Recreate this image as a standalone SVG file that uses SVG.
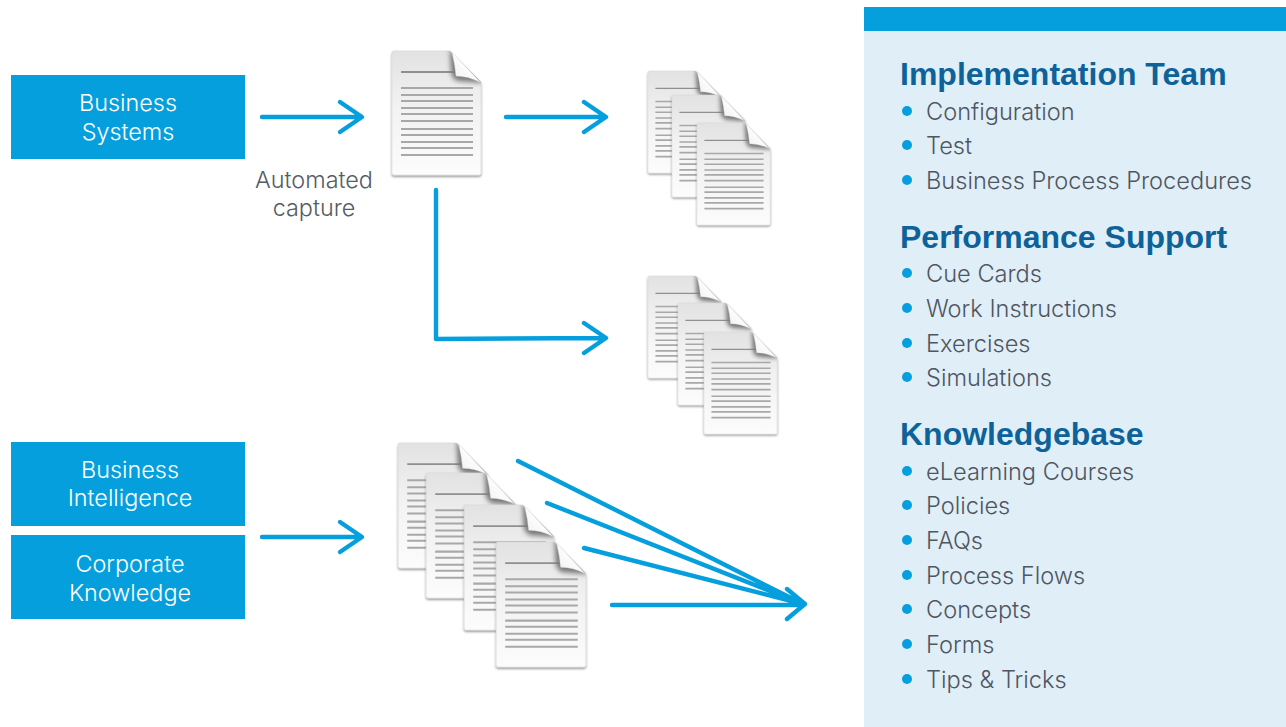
<svg xmlns="http://www.w3.org/2000/svg" width="1286" height="727" viewBox="0 0 1286 727">
<style>
text{font-family:Inter,"Liberation Sans",Arial,sans-serif;font-weight:300}
.box{fill:#069fdd}
.bt{fill:#fff;font-size:23.4px;text-anchor:middle}
.cap{fill:#555c64;font-size:23.4px;text-anchor:middle}
.h{fill:#0d6399;font-size:32px;font-weight:bold;font-family:"Liberation Sans",Arial,sans-serif}
.li{fill:#4f5660;font-size:23.6px}
.dot{fill:#069fdd}
.conn{fill:none;stroke:#069fdd;stroke-width:4.4;stroke-linecap:round;stroke-linejoin:round}
.hl{stroke:#8f8f8f;stroke-width:1.8}
.bl{stroke:#a8a8a8;stroke-width:2}
</style>
<defs>
<linearGradient id="page" x1="0" y1="0" x2="0" y2="1"><stop offset="0" stop-color="#e2e2e2"/><stop offset=".45" stop-color="#f2f2f2"/><stop offset="1" stop-color="#fcfcfc"/></linearGradient>
<linearGradient id="flap" x1="0" y1="1" x2="1" y2="0"><stop offset="0" stop-color="#efefef"/><stop offset=".6" stop-color="#fff"/><stop offset="1" stop-color="#f4f4f4"/></linearGradient>
<filter id="sh" x="-10%" y="-10%" width="120%" height="120%"><feDropShadow dx="0" dy="1.5" stdDeviation="1" flood-color="#000" flood-opacity=".45"/></filter>
<filter id="bl" x="-50%" y="-50%" width="200%" height="200%"><feGaussianBlur stdDeviation="2.6"/></filter>
<clipPath id="pg"><path d="M2,0H58L89,31V122Q89,124 87,124H2Q0,124 0,122V2Q0,0 2,0Z"/></clipPath>
<symbol id="doc" viewBox="0 0 90 125" overflow="visible">
<path d="M2,0H58L89,31V122Q89,124 87,124H2Q0,124 0,122V2Q0,0 2,0Z" fill="url(#page)" stroke="#d8d8d8" stroke-width=".6" filter="url(#sh)"/>
<path class="hl" d="M9,21H63"/>
<path class="bl" d="M9,37H81M9,44H81M9,50H81M9,57H81M9,63H81M9,70H81M9,78H81M9,84H81M9,91H81M9,97H81M9,104H81"/>
<g clip-path="url(#pg)"><path d="M58,-3L92,32L66,30Q60,29 59,20Z" fill="#777" filter="url(#bl)"/></g>
<path d="M60,1Q63,14 64,25Q76,25 88,31Z" fill="url(#flap)" stroke="#d4d4d4" stroke-width=".4"/>
</symbol>
</defs>
<rect width="1286" height="727" fill="#fff"/>
<g id="node-panel">
<rect x="864" y="31" width="422" height="696" fill="#e0eef8"/>
<rect x="864" y="7" width="422" height="24" fill="#069fdd"/>
</g>
<g id="node-business-systems"><rect class="box" x="11" y="75" width="234" height="84"/><text class="bt" x="128" y="111">Business</text><text class="bt" x="128" y="140">Systems</text></g>
<g id="node-business-intelligence"><rect class="box" x="11" y="442" width="234" height="84"/><text class="bt" x="130" y="478">Business</text><text class="bt" x="130" y="506">Intelligence</text></g>
<g id="node-corporate-knowledge"><rect class="box" x="11" y="535" width="234" height="84"/><text class="bt" x="130" y="572">Corporate</text><text class="bt" x="130" y="601">Knowledge</text></g>
<g id="label-automated-capture"><text class="cap" x="314" y="188">Automated</text><text class="cap" x="314" y="216">capture</text></g>
<g id="node-doc-main"><use href="#doc" x="392" y="51" width="90" height="125"/></g>
<g id="node-stack-a">
<use href="#doc" x="648" y="71" width="74" height="103"/>
<use href="#doc" x="672" y="95" width="74" height="103"/>
<use href="#doc" x="697" y="123" width="74" height="103"/>
</g>
<g id="node-stack-b">
<use href="#doc" x="648" y="276" width="74" height="103"/>
<use href="#doc" x="678" y="303" width="74" height="103"/>
<use href="#doc" x="704" y="332" width="74" height="103"/>
</g>
<g id="node-stack-c">
<use href="#doc" x="398" y="443" width="91" height="126"/>
<use href="#doc" x="426" y="473" width="91" height="126"/>
<use href="#doc" x="464" y="505" width="91" height="126"/>
<use href="#doc" x="496" y="542" width="91" height="126"/>
</g>
<g id="connectors" class="conn">
<path d="M262,117H361M340,102L362,117L340,132"/>
<path d="M506,117H605M584,102L606,117L584,132"/>
<path d="M436,190V339L605,338M584,323L606,338L584,353"/>
<path d="M262,537H361M340,522L362,537L340,552"/>
<path d="M518,461L803,604M547,503L803,604M584,548L803,604M612,605H803M787,589L805,604L787,619"/>
</g>
<g id="node-implementation-team">
<text class="h" x="900" y="85">Implementation Team</text>
<circle class="dot" cx="907" cy="111" r="5"/><text class="li" x="926" y="120">Configuration</text>
<circle class="dot" cx="907" cy="145" r="5"/><text class="li" x="926" y="154">Test</text>
<circle class="dot" cx="907" cy="180" r="5"/><text class="li" x="926" y="189">Business Process Procedures</text>
</g>
<g id="node-performance-support">
<text class="h" x="900" y="248">Performance Support</text>
<circle class="dot" cx="907" cy="273" r="5"/><text class="li" x="926" y="282">Cue Cards</text>
<circle class="dot" cx="907" cy="308" r="5"/><text class="li" x="926" y="317">Work Instructions</text>
<circle class="dot" cx="907" cy="343" r="5"/><text class="li" x="926" y="352">Exercises</text>
<circle class="dot" cx="907" cy="377" r="5"/><text class="li" x="926" y="386">Simulations</text>
</g>
<g id="node-knowledgebase">
<text class="h" x="900" y="445">Knowledgebase</text>
<circle class="dot" cx="907" cy="471" r="5"/><text class="li" x="926" y="480">eLearning Courses</text>
<circle class="dot" cx="907" cy="505" r="5"/><text class="li" x="926" y="514">Policies</text>
<circle class="dot" cx="907" cy="540" r="5"/><text class="li" x="926" y="549">FAQs</text>
<circle class="dot" cx="907" cy="575" r="5"/><text class="li" x="926" y="584">Process Flows</text>
<circle class="dot" cx="907" cy="609" r="5"/><text class="li" x="926" y="618">Concepts</text>
<circle class="dot" cx="907" cy="644" r="5"/><text class="li" x="926" y="653">Forms</text>
<circle class="dot" cx="907" cy="679" r="5"/><text class="li" x="926" y="688">Tips &amp; Tricks</text>
</g>
</svg>
